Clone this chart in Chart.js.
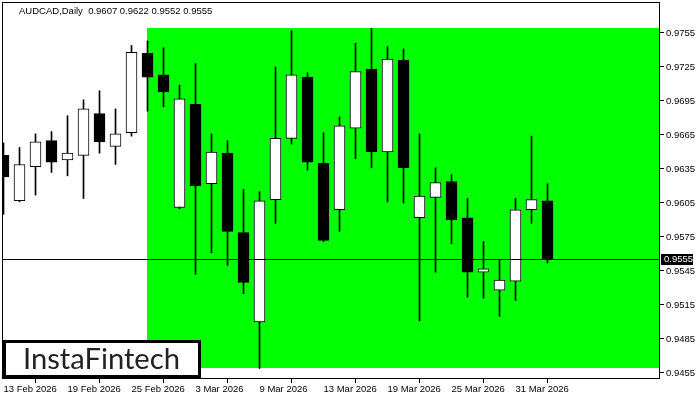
<!DOCTYPE html>
<html>
<head>
<meta charset="utf-8">
<script src="https://cdn.jsdelivr.net/npm/chart.js@4.4.1/dist/chart.umd.min.js"></script>
<style>
  body { margin: 0; background: #fff; }
</style>
</head>
<body>
<canvas id="chart" width="700" height="400"></canvas>
<script>
// Daily AUDCAD candles
const symbol = "AUDCAD,Daily";
const dates = [
  "13 Feb 2026", "16 Feb 2026", "17 Feb 2026", "18 Feb 2026", "19 Feb 2026",
  "20 Feb 2026", "23 Feb 2026", "24 Feb 2026", "25 Feb 2026", "26 Feb 2026",
  "27 Feb 2026", "2 Mar 2026", "3 Mar 2026", "4 Mar 2026", "5 Mar 2026",
  "6 Mar 2026", "9 Mar 2026", "10 Mar 2026", "11 Mar 2026", "12 Mar 2026",
  "13 Mar 2026", "16 Mar 2026", "17 Mar 2026", "18 Mar 2026", "19 Mar 2026",
  "20 Mar 2026", "23 Mar 2026", "24 Mar 2026", "25 Mar 2026", "26 Mar 2026",
  "27 Mar 2026", "30 Mar 2026", "31 Mar 2026", "1 Apr 2026", "2 Apr 2026"
];
const opens = [
  0.9647, 0.9607, 0.9637, 0.9660, 0.9643, 0.9647, 0.9684, 0.9655, 0.9667, 0.9737,
  0.9718, 0.9601, 0.9692, 0.9622, 0.9649, 0.9579, 0.9500, 0.9608, 0.9662, 0.9716,
  0.9640, 0.9599, 0.9671, 0.9723, 0.9650, 0.9731, 0.9592, 0.9610, 0.9624, 0.9592,
  0.9544, 0.9528, 0.9536, 0.9599, 0.9607
];
const highs = [
  0.9658, 0.9654, 0.9666, 0.9668, 0.9682, 0.9696, 0.9704, 0.9688, 0.9744, 0.9748,
  0.9742, 0.9709, 0.9728, 0.9666, 0.9660, 0.9617, 0.9615, 0.9725, 0.9757, 0.9720,
  0.9667, 0.9681, 0.9746, 0.9759, 0.9743, 0.9741, 0.9666, 0.9636, 0.9630, 0.9609,
  0.9571, 0.9555, 0.9609, 0.9664, 0.9622
];
const lows = [
  0.9595, 0.9606, 0.9612, 0.9632, 0.9629, 0.9609, 0.9649, 0.9639, 0.9664, 0.9686,
  0.9690, 0.9600, 0.9542, 0.9561, 0.9550, 0.9525, 0.9459, 0.9587, 0.9657, 0.9634,
  0.9571, 0.9580, 0.9644, 0.9636, 0.9606, 0.9605, 0.9501, 0.9544, 0.9569, 0.9522,
  0.9521, 0.9505, 0.9519, 0.9587, 0.9552
];
const closes = [
  0.9628, 0.9639, 0.9659, 0.9641, 0.9649, 0.9688, 0.9659, 0.9666, 0.9738, 0.9716,
  0.9703, 0.9697, 0.9620, 0.9650, 0.9580, 0.9535, 0.9607, 0.9662, 0.9718, 0.9641,
  0.9572, 0.9673, 0.9721, 0.9650, 0.9732, 0.9636, 0.9611, 0.9623, 0.9590, 0.9544,
  0.9547, 0.9537, 0.9599, 0.9608, 0.9555
];

// which candles get a date label on the time axis
const tickIndex = [0, 4, 8, 12, 16, 20, 24, 28, 32];
const priceTicks = [0.9455, 0.9485, 0.9515, 0.9545, 0.9575, 0.9605, 0.9635, 0.9665, 0.9695, 0.9725, 0.9755];

// green range box and the current bid
const boxStart = 9;
const boxHigh = 0.9759;
const boxLow = 0.9459;
const lastPrice = 0.9555;

const FONT = "Liberation Sans";

const last = opens.length - 1;
const header = symbol + "  " + [opens[last], highs[last], lows[last], closes[last]].map(v => v.toFixed(4)).join(" ");

const bodies = opens.map((o, i) => ({ x: i, y: [Math.min(o, closes[i]), Math.max(o, closes[i])] }));
const wicks = opens.map((o, i) => ({ x: i, y: [lows[i], highs[i]] }));
const bodyColors = opens.map((o, i) => (closes[i] >= o ? "#ffffff" : "#000000"));

// box, bid line, frame, header, price tag and logo
const overlay = {
  id: "overlay",
  beforeDatasetsDraw(chart) {
    const { ctx, chartArea: a, scales: { x, y } } = chart;
    const bx = Math.floor(x.getPixelForValue(boxStart));
    const top = Math.round(y.getPixelForValue(boxHigh));
    const bottom = Math.round(y.getPixelForValue(boxLow));
    ctx.save();
    ctx.fillStyle = "#00ff00";
    ctx.fillRect(bx, top, a.right - bx, bottom - top);
    ctx.restore();
  },
  afterDatasetsDraw(chart) {
    const { ctx, chartArea: a, scales: { y } } = chart;
    const py = Math.floor(y.getPixelForValue(lastPrice)) + 0.5;
    ctx.save();
    ctx.strokeStyle = "#000";
    ctx.lineWidth = 1;
    ctx.beginPath();
    ctx.moveTo(a.left, py);
    ctx.lineTo(a.right, py);
    ctx.stroke();

    // frame round the plot
    ctx.strokeRect(a.left + 0.5, a.top + 0.5, a.right - a.left - 1, a.bottom - a.top - 1);

    ctx.fillStyle = "#000";
    ctx.font = "9.5px '" + FONT + "'";
    ctx.textBaseline = "middle";
    ctx.fillText(header, 19, 11);

    // price tag on the axis
    ctx.fillRect(a.right + 1, py - 5.5, 32, 11);
    ctx.fillStyle = "#fff";
    ctx.fillText(lastPrice.toFixed(4), a.right + 4, py);
    ctx.restore();
  },
  afterDraw(chart) {
    const { ctx } = chart;
    ctx.save();
    ctx.fillStyle = "#fff";
    ctx.fillRect(3, 340, 198, 38);
    ctx.strokeStyle = "#000";
    ctx.lineWidth = 3;
    ctx.strokeRect(4.5, 341.5, 195, 35);
    let size = 28;
    ctx.font = size + "px Lato";
    const w = ctx.measureText("InstaFintech").width;
    size = size * 157 / w;
    ctx.font = size + "px Lato";
    ctx.fillStyle = "#222";
    ctx.textBaseline = "alphabetic";
    ctx.fillText("InstaFintech", 23, 369);
    ctx.restore();
  }
};

new Chart(document.getElementById("chart"), {
  type: "bar",
  data: {
    datasets: [
      {
        label: "body",
        data: bodies,
        backgroundColor: bodyColors,
        borderColor: "#000",
        borderWidth: 1,
        borderSkipped: false,
        barThickness: 11,
        grouped: false
      },
      {
        label: "wick",
        data: wicks,
        backgroundColor: "#000",
        borderWidth: 0,
        barThickness: 1,
        grouped: false
      }
    ]
  },
  options: {
    responsive: false,
    animation: false,
    layout: { padding: { left: 2, top: 2, right: 0, bottom: 0 } },
    plugins: { legend: { display: false }, tooltip: { enabled: false } },
    scales: {
      x: {
        type: "linear",
        offset: false,
        min: -0.09375,
        max: 41.03125,
        border: { display: false },
        grid: { drawOnChartArea: false, drawTicks: true, tickLength: 4, color: "#000" },
        ticks: {
          autoSkip: false,
          maxRotation: 0,
          align: "start",
          padding: 1,
          color: "#000",
          font: { family: FONT, size: 9.5 },
          callback: (value, index) => dates[tickIndex[index]]
        },
        afterBuildTicks: (scale) => {
          scale.ticks = tickIndex.map(v => ({ value: v }));
        },
        afterFit: (scale) => {
          scale.height = 21;
          scale.paddingLeft = 0;
          scale.paddingRight = 0;
        }
      },
      y: {
        position: "right",
        min: 0.94497,
        max: 0.978235,
        border: { display: false },
        grid: { drawOnChartArea: false, drawTicks: true, tickLength: 4, color: "#000" },
        ticks: {
          autoSkip: false,
          padding: 2,
          color: "#000",
          font: { family: FONT, size: 9.5 },
          callback: (value) => value.toFixed(4)
        },
        afterBuildTicks: (scale) => {
          scale.ticks = priceTicks.map(v => ({ value: v }));
        },
        afterFit: (scale) => {
          scale.width = 40;
          scale.paddingTop = 0;
          scale.paddingBottom = 0;
        }
      }
    }
  },
  plugins: [overlay]
});
</script>
</body>
</html>
